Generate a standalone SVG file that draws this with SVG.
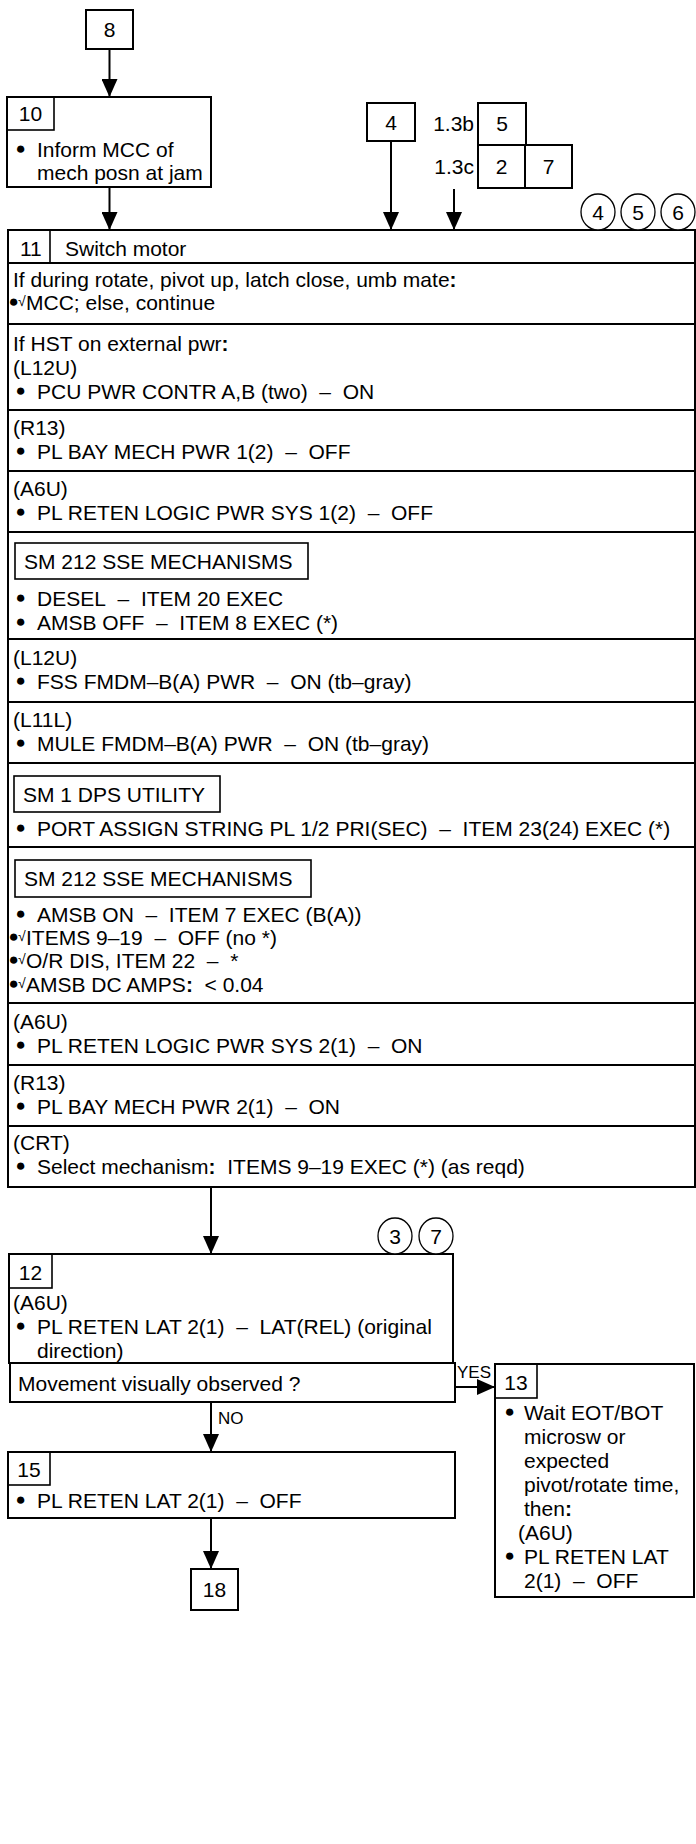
<svg xmlns="http://www.w3.org/2000/svg" width="696" height="1844" viewBox="0 0 696 1844">
<defs>
<style>
text { font-family: "Liberation Sans", Arial, sans-serif; font-size: 21px; fill: #000; white-space: pre; }
.box { fill: #fff; stroke: #000; stroke-width: 2; }
.sub { fill: none; stroke: #000; stroke-width: 1.6; }
.sep { stroke: #000; stroke-width: 2; }
.c { text-anchor: middle; }
.e { text-anchor: end; }
.lbl { font-size: 17px; }
.chk { font-size: 14px; }
.bul { font-size: 17px; }
.b { font-weight: bold; }
.circ { fill: #fff; stroke: #000; stroke-width: 1.3; }
.con { stroke: #000; stroke-width: 2; fill: none; marker-end: url(#arr); }
</style>
<marker id="arr" viewBox="0 0 18 16" refX="18" refY="8" markerWidth="18" markerHeight="16" markerUnits="userSpaceOnUse" orient="auto">
<path d="M0,0 L18,8 L0,16 z" fill="#000"/>
</marker>
</defs>
<rect x="0" y="0" width="696" height="1844" fill="#fff"/>

<g id="connectors">
<line class="con" x1="109.5" y1="49" x2="109.5" y2="97"/>
<line class="con" x1="109.5" y1="187" x2="109.5" y2="230"/>
<line class="con" x1="391" y1="141" x2="391" y2="230"/>
<line class="con" x1="454" y1="189" x2="454" y2="230"/>
<line class="con" x1="211" y1="1187" x2="211" y2="1254"/>
<line class="con" x1="455" y1="1387" x2="495" y2="1387"/>
<text class="lbl" x="457" y="1378">YES</text>
<line class="con" x1="211" y1="1402" x2="211" y2="1452"/>
<text class="lbl" x="218" y="1424">NO</text>
<line class="con" x1="211" y1="1518" x2="211" y2="1569"/>
</g>

<g id="node-8">
<rect class="box" x="86" y="10" width="47" height="39"/>
<text class="c" x="109.5" y="37">8</text>
</g>

<g id="node-10">
<rect class="box" x="7" y="97" width="204" height="90"/>
<rect class="sub" x="7" y="97" width="47" height="33"/>
<text class="c" x="30.5" y="121">10</text>
<text y="157"><tspan class="bul" x="15.5" dy="-3">●</tspan><tspan x="37" dy="3">Inform MCC of</tspan></text>
<text x="37" y="180">mech posn at jam</text>
</g>

<g id="node-4">
<rect class="box" x="367" y="103" width="48" height="38"/>
<text class="c" x="391" y="130">4</text>
</g>

<g id="node-ref">
<text class="e" x="474" y="131">1.3b</text>
<text class="e" x="474" y="174">1.3c</text>
<rect class="box" x="478" y="103" width="48" height="42"/>
<text class="c" x="502" y="131">5</text>
<rect class="box" x="478" y="145" width="47" height="43"/>
<text class="c" x="501.5" y="174">2</text>
<rect class="box" x="525" y="145" width="47" height="43"/>
<text class="c" x="548.5" y="174">7</text>
</g>

<g id="node-11">
<rect class="box" x="8" y="230" width="687" height="957"/>
<line class="sep" x1="50" y1="230" x2="50" y2="263" style="stroke-width:1.6"/>
<text x="20" y="256">11</text>
<text x="65" y="256">Switch motor</text>
<line class="sep" x1="8" y1="263" x2="695" y2="263"/>
<line class="sep" x1="8" y1="324" x2="695" y2="324"/>
<line class="sep" x1="8" y1="410" x2="695" y2="410"/>
<line class="sep" x1="8" y1="471" x2="695" y2="471"/>
<line class="sep" x1="8" y1="532" x2="695" y2="532"/>
<line class="sep" x1="8" y1="639" x2="695" y2="639"/>
<line class="sep" x1="8" y1="702" x2="695" y2="702"/>
<line class="sep" x1="8" y1="763" x2="695" y2="763"/>
<line class="sep" x1="8" y1="847" x2="695" y2="847"/>
<line class="sep" x1="8" y1="1003" x2="695" y2="1003"/>
<line class="sep" x1="8" y1="1065" x2="695" y2="1065"/>
<line class="sep" x1="8" y1="1126" x2="695" y2="1126"/>

<text x="13" y="287">If during rotate, pivot up, latch close, umb mate<tspan class="b">:</tspan></text>
<text y="310"><tspan class="bul" x="8.5" dy="-3">●</tspan><tspan class="chk" x="18" dy="-1">√</tspan><tspan x="26" dy="4">MCC; else, continue</tspan></text>

<text x="13" y="351">If HST on external pwr<tspan class="b">:</tspan></text>
<text x="13" y="375">(L12U)</text>
<text y="399"><tspan class="bul" x="15.5" dy="-3">●</tspan><tspan x="37" dy="3">PCU PWR CONTR A,B (two)&#160;&#160;–&#160;&#160;ON</tspan></text>

<text x="13" y="435">(R13)</text>
<text y="459"><tspan class="bul" x="15.5" dy="-3">●</tspan><tspan x="37" dy="3">PL BAY MECH PWR 1(2)&#160;&#160;–&#160;&#160;OFF</tspan></text>

<text x="13" y="496">(A6U)</text>
<text y="520"><tspan class="bul" x="15.5" dy="-3">●</tspan><tspan x="37" dy="3">PL RETEN LOGIC PWR SYS 1(2)&#160;&#160;–&#160;&#160;OFF</tspan></text>

<rect class="sub" x="15" y="543" width="293" height="36"/>
<text x="24" y="569">SM 212 SSE MECHANISMS</text>
<text y="606"><tspan class="bul" x="15.5" dy="-3">●</tspan><tspan x="37" dy="3">DESEL&#160;&#160;–&#160;&#160;ITEM 20 EXEC</tspan></text>
<text y="630"><tspan class="bul" x="15.5" dy="-3">●</tspan><tspan x="37" dy="3">AMSB OFF&#160;&#160;–&#160;&#160;ITEM 8 EXEC (*)</tspan></text>

<text x="13" y="665">(L12U)</text>
<text y="689"><tspan class="bul" x="15.5" dy="-3">●</tspan><tspan x="37" dy="3">FSS FMDM–B(A) PWR&#160;&#160;–&#160;&#160;ON (tb–gray)</tspan></text>

<text x="13" y="727">(L11L)</text>
<text y="751"><tspan class="bul" x="15.5" dy="-3">●</tspan><tspan x="37" dy="3">MULE FMDM–B(A) PWR&#160;&#160;–&#160;&#160;ON (tb–gray)</tspan></text>

<rect class="sub" x="14" y="776" width="206" height="36"/>
<text x="23" y="802">SM 1 DPS UTILITY</text>
<text y="836"><tspan class="bul" x="15.5" dy="-3">●</tspan><tspan x="37" dy="3">PORT ASSIGN STRING PL 1/2 PRI(SEC)&#160;&#160;–&#160;&#160;ITEM 23(24) EXEC (*)</tspan></text>

<rect class="sub" x="15" y="860" width="296" height="37"/>
<text x="24" y="886">SM 212 SSE MECHANISMS</text>
<text y="922"><tspan class="bul" x="15.5" dy="-3">●</tspan><tspan x="37" dy="3">AMSB ON&#160;&#160;–&#160;&#160;ITEM 7 EXEC (B(A))</tspan></text>
<text y="945"><tspan class="bul" x="8.5" dy="-3">●</tspan><tspan class="chk" x="18" dy="-1">√</tspan><tspan x="26" dy="4">ITEMS 9–19&#160;&#160;–&#160;&#160;OFF (no *)</tspan></text>
<text y="968"><tspan class="bul" x="8.5" dy="-3">●</tspan><tspan class="chk" x="18" dy="-1">√</tspan><tspan x="26" dy="4">O/R DIS, ITEM 22&#160;&#160;–&#160;&#160;*</tspan></text>
<text y="992"><tspan class="bul" x="8.5" dy="-3">●</tspan><tspan class="chk" x="18" dy="-1">√</tspan><tspan x="26" dy="4">AMSB DC AMPS<tspan class="b">:</tspan>&#160;&#160;&lt; 0.04</tspan></text>

<text x="13" y="1029">(A6U)</text>
<text y="1053"><tspan class="bul" x="15.5" dy="-3">●</tspan><tspan x="37" dy="3">PL RETEN LOGIC PWR SYS 2(1)&#160;&#160;–&#160;&#160;ON</tspan></text>

<text x="13" y="1090">(R13)</text>
<text y="1114"><tspan class="bul" x="15.5" dy="-3">●</tspan><tspan x="37" dy="3">PL BAY MECH PWR 2(1)&#160;&#160;–&#160;&#160;ON</tspan></text>

<text x="13" y="1150">(CRT)</text>
<text y="1174"><tspan class="bul" x="15.5" dy="-3">●</tspan><tspan x="37" dy="3">Select mechanism<tspan class="b">:</tspan>&#160;&#160;ITEMS 9–19 EXEC (*) (as reqd)</tspan></text>
</g>

<g id="circles-456">
<ellipse class="circ" cx="598" cy="212" rx="17" ry="18"/>
<text class="c" x="598" y="220">4</text>
<ellipse class="circ" cx="638" cy="212" rx="17" ry="18"/>
<text class="c" x="638" y="220">5</text>
<ellipse class="circ" cx="678" cy="212" rx="17" ry="18"/>
<text class="c" x="678" y="220">6</text>
</g>

<g id="node-12">
<rect class="box" x="9" y="1254" width="444" height="109"/>
<rect class="sub" x="9" y="1254" width="43" height="34"/>
<text class="c" x="30.5" y="1280">12</text>
<text x="13" y="1310">(A6U)</text>
<text y="1334"><tspan class="bul" x="15.5" dy="-3">●</tspan><tspan x="37" dy="3">PL RETEN LAT 2(1)&#160;&#160;–&#160;&#160;LAT(REL) (original</tspan></text>
<text x="37" y="1358">direction)</text>
<rect class="box" x="10" y="1363" width="445" height="39"/>
<text x="18" y="1391">Movement visually observed ?</text>
<ellipse class="circ" cx="395" cy="1236" rx="17" ry="18"/>
<text class="c" x="395" y="1244">3</text>
<ellipse class="circ" cx="436" cy="1236" rx="17" ry="18"/>
<text class="c" x="436" y="1244">7</text>
</g>

<g id="node-13">
<rect class="box" x="495" y="1364" width="199" height="233"/>
<rect class="sub" x="495" y="1364" width="42" height="34"/>
<text class="c" x="516" y="1390">13</text>
<text y="1420"><tspan class="bul" x="504.5" dy="-3">●</tspan><tspan x="524" dy="3">Wait EOT/BOT</tspan></text>
<text x="524" y="1444">microsw or</text>
<text x="524" y="1468">expected</text>
<text x="524" y="1492">pivot/rotate time,</text>
<text x="524" y="1516">then<tspan class="b">:</tspan></text>
<text x="518" y="1540">(A6U)</text>
<text y="1564"><tspan class="bul" x="504.5" dy="-3">●</tspan><tspan x="524" dy="3">PL RETEN LAT</tspan></text>
<text x="524" y="1588">2(1)&#160;&#160;–&#160;&#160;OFF</text>
</g>

<g id="node-15">
<rect class="box" x="8" y="1452" width="447" height="66"/>
<rect class="sub" x="8" y="1452" width="42" height="33"/>
<text class="c" x="29" y="1477">15</text>
<text y="1508"><tspan class="bul" x="15.5" dy="-3">●</tspan><tspan x="37" dy="3">PL RETEN LAT 2(1)&#160;&#160;–&#160;&#160;OFF</tspan></text>
</g>

<g id="node-18">
<rect class="box" x="191" y="1569" width="47" height="41"/>
<text class="c" x="214.5" y="1597">18</text>
</g>
</svg>
